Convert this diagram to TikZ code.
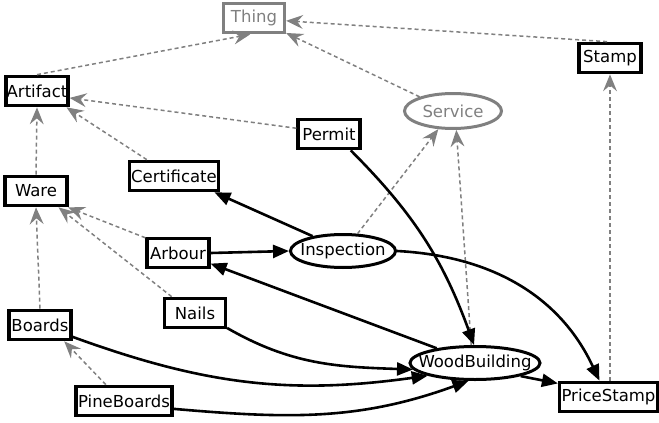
\documentclass[tikz,border=0pt]{standalone}
\usepackage{fontspec}
\setmainfont{DejaVu Sans}
\usetikzlibrary{arrows.meta,shapes.geometric}
\definecolor{isagray}{HTML}{808080}
\begin{document}
\begin{tikzpicture}[x=1pt,y=-1pt,
  lbl/.style={font=\fontsize{16.5}{19}\selectfont},
  box/.style={lbl,draw,line width=3.2pt,minimum width=#1,minimum height=29.5pt,inner sep=0pt},
  graybox/.style={box=#1,draw=isagray,text=isagray},
  ell/.style={lbl,draw,ellipse,line width=3pt,inner sep=0pt},
  isa/.style={draw=isagray,line width=1.5pt,dash pattern=on 4pt off 3pt,
    -{Stealth[length=17pt,width=14pt,inset=6pt,isagray,line width=0pt]}},
  rel/.style={draw=black,line width=2.6pt,-{Triangle[length=16pt,width=13pt]}}]
\useasboundingbox (0,0) rectangle (659,423);
% nodes
\node[graybox=61pt] (Thing) at (254,18) {Thing};
\node[box=62pt] (Stamp) at (610,58) {Stamp};
\node[box=62pt] (Artifact) at (37,91) {Artifact};
\node[box=62pt] (Permit) at (329,134) {Permit};
\node[box=89pt] (Certificate) at (174,176) {Certificate};
\node[box=62pt] (Ware) at (36,191) {Ware};
\node[box=62pt] (Arbour) at (178,253) {Arbour};
\node[box=61pt] (Nails) at (195,313) {Nails};
\node[box=62pt] (Boards) at (40,325) {Boards};
\node[box=98pt] (PriceStamp) at (608.5,397) {PriceStamp};
\node[box=96pt] (PineBoards) at (124,401) {PineBoards};
\node[ell,draw=isagray,text=isagray,minimum width=97pt,minimum height=35pt] (Service) at (453,111) {\makebox[0pt][c]{Service}};
\node[ell,minimum width=105pt,minimum height=33pt] (Inspection) at (343,251) {\makebox[0pt][c]{Inspection}};
\node[ell,minimum width=130pt,minimum height=33pt] (WoodBuilding) at (475,363) {\makebox[0pt][c]{WoodBuilding}};
% is-a edges
\draw[isa] (Artifact.north) -- (Thing.-103);
\draw[isa] (Stamp.100) -- (Thing.-5);
\draw[isa] (Service.157) -- (Thing.-25);
\draw[isa] (Permit.170) -- (Artifact.-12);
\draw[isa] (Certificate.149) -- (Artifact.-29);
\draw[isa] (Ware.north) -- (Artifact.south);
\draw[isa] (Arbour.155) -- (Ware.-27);
\draw[isa] (Nails.145) -- (Ware.-36);
\draw[isa] (Boards.north) -- (Ware.south);
\draw[isa] (PineBoards.138) -- (Boards.-34);
\draw[isa] (Inspection.50) -- (Service.-129);
\draw[isa] (WoodBuilding.102) -- (Service.-80);
\draw[isa] (Stamp.south |- PriceStamp.north) -- (Stamp.south);
% relation edges
\draw[rel] (Inspection.154) -- (Certificate.-22);
\draw[rel] (Arbour.east) -- (Inspection.west);
\draw[rel] (WoodBuilding.159) -- (Arbour.-18);
\draw[rel] (Permit.-37) to[out=-45,in=110] (WoodBuilding.93);
\draw[rel] (Inspection.east) to[out=-3,in=115] (PriceStamp.119);
\draw[rel] (Nails.-25) to[out=-30,in=178] (WoodBuilding.186);
\draw[rel] (Boards.-20) to[out=-20,in=188] (WoodBuilding.195);
\draw[rel] (PineBoards.-9) to[out=-5,in=200] (WoodBuilding.-110);
\draw[rel] (WoodBuilding.-16) -- (PriceStamp.165);
\end{tikzpicture}
\end{document}
